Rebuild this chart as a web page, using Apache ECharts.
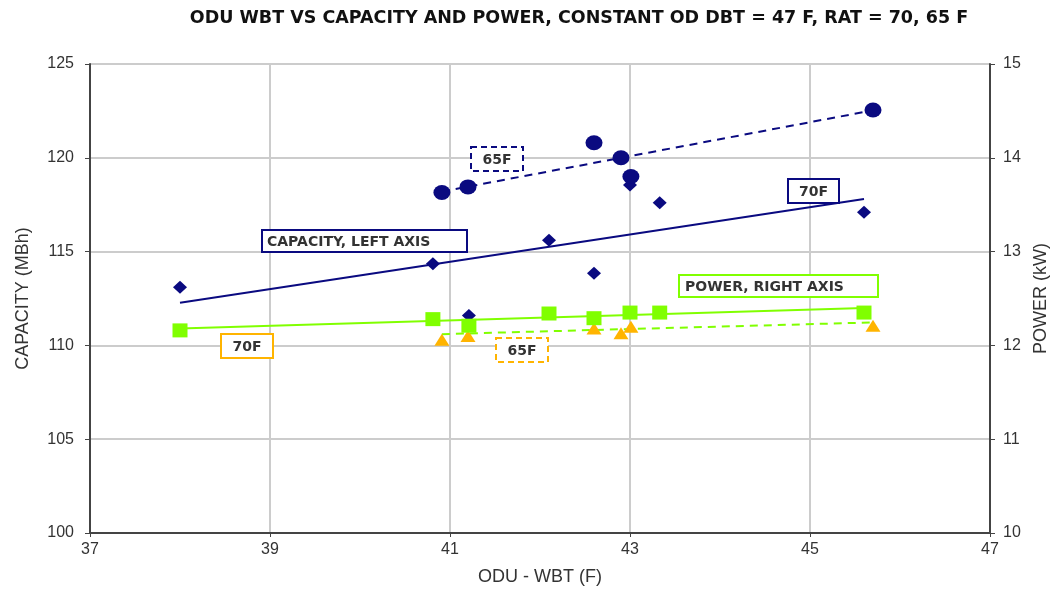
<!DOCTYPE html>
<html>
<head>
<meta charset="utf-8">
<script src="https://cdn.jsdelivr.net/npm/echarts@6/dist/echarts.min.js"></script>
<style>html,body{margin:0;padding:0;background:#fff}#c{width:1053px;height:591px}</style>
</head>
<body>
<div id="c"></div>
<script>
// ---- data ----
const titleText = 'ODU WBT VS CAPACITY AND POWER, CONSTANT OD DBT = 47 F, RAT = 70, 65 F';
const xTicks = [37, 39, 41, 43, 45, 47];
const wbt70 = [38.0, 40.81, 41.21, 42.1, 42.6, 43.0, 43.33, 45.6];
const cap70 = [113.1, 114.35, 111.6, 115.6, 113.85, 118.55, 117.6, 117.1];
const pow70 = [12.16, 12.28, 12.21, 12.34, 12.29, 12.35, 12.35, 12.35];
const wbt65 = [40.91, 41.2, 42.6, 42.9, 43.01, 45.7];
const cap65 = [118.15, 118.45, 120.8, 120.0, 119.0, 122.55];
const pow65 = [12.06, 12.1, 12.18, 12.13, 12.2, 12.21];
const trendX70 = [38.0, 45.6];
const capTrend70 = [112.27, 117.8];
const powTrend70 = [12.18, 12.40];
const trendX65 = [40.91, 45.7];
const capTrend65 = [118.2, 122.53];
const powTrend65 = [12.12, 12.245];

const zip = (xs, ys) => xs.map((x, i) => [x, ys[i]]);
const NAVY = '#0a0a80', GREEN = '#80ff00', ORANGE = '#ffb400';
const FONT = '"Liberation Sans", Arial, sans-serif';
const BOXFONT = '"DejaVu Sans", sans-serif';

function box(x, y, w, h, text, color, dashed, leftPad) {
  const centered = leftPad == null;
  return {
    type: 'group', left: x, top: y, z: 100,
    children: [
      {type: 'rect', z: 100, shape: {x: 0, y: 0, width: w, height: h},
       style: {fill: '#fff', stroke: color, lineWidth: 2, lineDash: dashed ? [6, 4] : null}},
      {type: 'text', z: 101, x: centered ? w / 2 : leftPad, y: h / 2 + 1,
       style: {text: text, fill: '#333', font: 'bold 14px ' + BOXFONT,
               align: centered ? 'center' : 'left', verticalAlign: 'middle'}}
    ]
  };
}

const chart = echarts.init(document.getElementById('c'), null, {renderer: 'canvas'});
chart.setOption({
  animation: false,
  backgroundColor: '#fff',
  grid: {left: 90, right: 63, top: 64, bottom: 58, containLabel: false, outerBoundsMode: 'none'},
  xAxis: {type: 'value', min: 37, max: 47, interval: 2,
    name: 'ODU - WBT (F)', nameLocation: 'middle', nameGap: 35,
    nameTextStyle: {fontFamily: FONT, fontSize: 18, color: '#333'},
    axisLine: {lineStyle: {color: '#444', width: 2}},
    axisTick: {show: true, length: 4, lineStyle: {color: '#444'}},
    axisLabel: {fontFamily: FONT, fontSize: 16, color: '#333', margin: 9},
    splitLine: {show: true, lineStyle: {color: '#cccccc', width: 2}}},
  yAxis: [
    {type: 'value', min: 100, max: 125, interval: 5, position: 'left',
     name: 'CAPACITY (MBh)', nameLocation: 'middle', nameGap: 58,
     nameTextStyle: {fontFamily: FONT, fontSize: 18, color: '#333'},
     axisLine: {show: true, lineStyle: {color: '#444', width: 2}},
     axisTick: {show: true, length: 5, lineStyle: {color: '#444'}},
     axisLabel: {fontFamily: FONT, fontSize: 16, color: '#333', margin: 16},
     splitLine: {show: true, lineStyle: {color: '#cccccc', width: 2}}},
    {type: 'value', min: 10, max: 15, interval: 1, position: 'right',
     name: 'POWER (kW)', nameLocation: 'middle', nameGap: 41,
     nameTextStyle: {fontFamily: FONT, fontSize: 18, color: '#333'},
     axisLine: {show: true, lineStyle: {color: '#444', width: 2}},
     axisTick: {show: true, length: 5, lineStyle: {color: '#444'}},
     axisLabel: {fontFamily: FONT, fontSize: 16, color: '#333', margin: 13},
     splitLine: {show: false}}
  ],
  series: [
    {type: 'line', data: zip(trendX70, capTrend70), yAxisIndex: 0, symbol: 'none',
     lineStyle: {color: NAVY, width: 2}, z: 2},
    {type: 'line', data: zip(trendX65, capTrend65), yAxisIndex: 0, symbol: 'none',
     lineStyle: {color: NAVY, width: 2, type: [8, 6]}, z: 2},
    {type: 'line', data: zip(trendX70, powTrend70), yAxisIndex: 1, symbol: 'none',
     lineStyle: {color: GREEN, width: 2}, z: 2},
    {type: 'line', data: zip(trendX65, powTrend65), yAxisIndex: 1, symbol: 'none',
     lineStyle: {color: GREEN, width: 2, type: [8, 6]}, z: 2},
    {type: 'scatter', data: zip(wbt70, cap70), yAxisIndex: 0, symbol: 'diamond',
     symbolSize: [14, 13], itemStyle: {color: NAVY, opacity: 1}, z: 3},
    {type: 'scatter', data: zip(wbt65, cap65), yAxisIndex: 0, symbol: 'circle',
     symbolSize: [17, 15], itemStyle: {color: NAVY, opacity: 1}, z: 3},
    {type: 'scatter', data: zip(wbt65, pow65), yAxisIndex: 1, symbol: 'triangle',
     symbolSize: [15, 12], itemStyle: {color: ORANGE, opacity: 1}, z: 3},
    {type: 'scatter', data: zip(wbt70, pow70), yAxisIndex: 1, symbol: 'rect',
     symbolSize: [15, 14], itemStyle: {color: GREEN, opacity: 1}, z: 4}
  ],
  graphic: [
    {type: 'text', z: 100, x: 579, y: 18,
     style: {text: titleText, fill: '#111', font: 'bold 17.5px ' + BOXFONT,
             align: 'center', verticalAlign: 'middle'}},
    box(470, 146, 52, 24, '65F', NAVY, true),
    box(261, 229, 205, 22, 'CAPACITY, LEFT AXIS', NAVY, false, 5),
    box(787, 178, 51, 24, '70F', NAVY, false),
    box(678, 274, 199, 22, 'POWER, RIGHT AXIS', GREEN, false, 6),
    box(220, 333, 52, 24, '70F', ORANGE, false),
    box(495, 337, 52, 24, '65F', ORANGE, true)
  ]
});
</script>
</body>
</html>
